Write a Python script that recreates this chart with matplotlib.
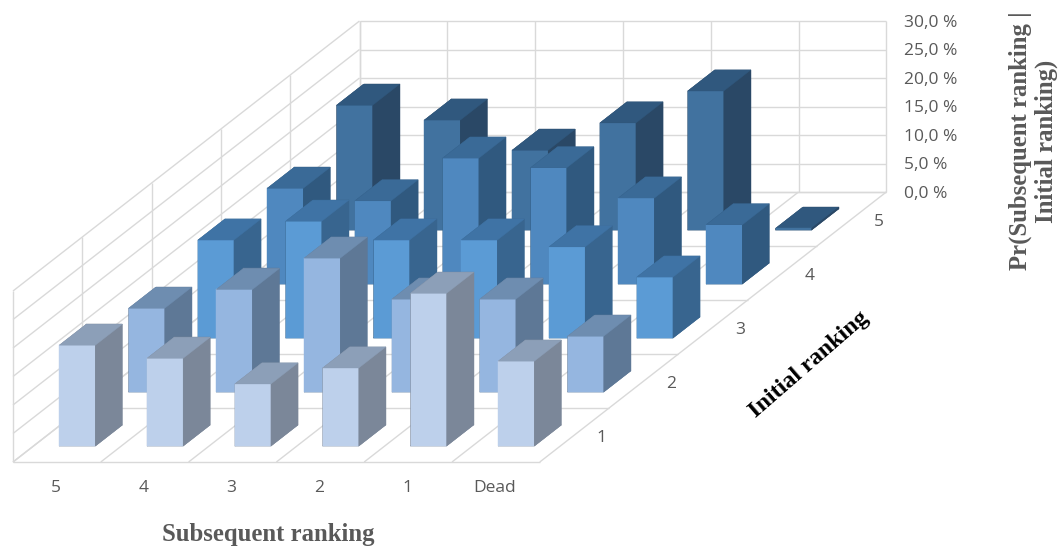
import numpy as np
import matplotlib
matplotlib.use("Agg")
import matplotlib.pyplot as plt
from mpl_toolkits.mplot3d.art3d import Line3DCollection

subsequent = ["5", "4", "3", "2", "1", "Dead"]
initial = ["1", "2", "3", "4", "5"]
z_ticks = [0, 5, 10, 15, 20, 25, 30]
z_labels = ["0,0 %", "5,0 %", "10,0 %", "15,0 %", "20,0 %", "25,0 %", "30,0 %"]

row1 = [17.7, 15.4, 10.9, 13.7, 26.8, 14.9]
row2 = [14.7, 18.0, 23.5, 16.3, 16.3, 9.8]
row3 = [17.2, 20.5, 17.2, 17.2, 16.0, 10.7]
row4 = [16.8, 14.6, 22.1, 20.4, 15.1, 10.4]
row5 = [21.9, 19.3, 14.0, 18.8, 24.4, 0.3]
rows = [row1, row2, row3, row4, row5]

front = ["#BDD0EB", "#95B6E0", "#5B9BD5", "#4F88BF", "#41729F"]
top = ["#8C9FB8", "#6E8DB0", "#3F73A5", "#3A6A97", "#30587E"]
side = ["#7B8799", "#5E7896", "#38658F", "#30597F", "#2A4866"]
GRID = "#D9D9D9"
TICK = "#595959"

W, H = 1058, 547
fig = plt.figure(figsize=(W / 100, H / 100), dpi=100, facecolor="white")
ax = fig.add_axes([0, 0, 1, 1], projection="3d", computed_zorder=False)

# oblique projection: data (x, y, z) -> pixel position and paint depth
M = np.array([[87.8, 69.3, 0.0, 13.0],
              [0.0, -54.0, -5.7, 462.0],
              [-1.0, 1.0, -0.1, 0.0],
              [0.0, 0.0, 0.0, 1.0]])
ax.get_proj = lambda: M
ax.apply_aspect = lambda position=None: None
ax.set_xticks([])
ax.set_yticks([])
ax.set_zticks([])
ax.set_axis_off()
ax.patch.set_alpha(0)
ax.viewLim.intervalx = (0, W)
ax.viewLim.intervaly = (H, 0)


def screen(x, y, z):
    return (M @ np.array([x, y, z, 1.0]))[:2]


nx, ny = len(subsequent), len(initial)
zmax = z_ticks[-1]

segments = []
for z in z_ticks:
    segments.append([(0, 0, z), (0, ny, z)])
    segments.append([(0, ny, z), (nx, ny, z)])
for i in range(nx + 1):
    segments.append([(i, 0, 0), (i, ny, 0)])
    segments.append([(i, ny, 0), (i, ny, zmax)])
for j in range(ny + 1):
    segments.append([(0, j, 0), (nx, j, 0)])
    segments.append([(0, j, 0), (0, j, zmax)])
ax.add_collection3d(Line3DCollection(segments, colors=GRID, linewidths=1.0, zorder=5))

dx, dy = 0.41, 0.39
order = 10
for j in range(ny - 1, -1, -1):
    for i in range(nx):
        faces = [side[j], top[j], front[j], side[j], side[j], side[j]]
        ax.bar3d(i + 0.295, j + 0.295, 0, dx, dy, rows[j][i], color=faces,
                 edgecolor=faces, linewidth=0.3, shade=False, zorder=order)
        order += 1

tick_font = dict(family="Open Sans", fontsize=12.5, color=TICK, zorder=200,
                 transform=ax.transData, va="center")
for i, lab in enumerate(subsequent):
    px, py = screen(i + 0.49, 0, -4.6)
    ax.text2D(px, py, lab, ha="center", **tick_font)
for j, lab in enumerate(initial):
    px, py = screen(nx + 0.31, j + 0.5, -0.45)
    ax.text2D(px, py, lab, ha="center", **tick_font)
for z, lab in zip(z_ticks, z_labels):
    px, py = screen(nx + 0.2, ny, z - 0.3)
    ax.text2D(px, py, lab, ha="left", **tick_font)

serif = dict(family="Liberation Serif", fontweight="bold")
fig.text(268 / W, 1 - 534 / H, "Subsequent ranking", ha="center", va="center",
         fontsize=17.8, color=TICK, **serif)
fig.text(809 / W, 1 - 365 / H, "Initial ranking", ha="center", va="center",
         rotation=41, rotation_mode="anchor", fontsize=17.3, color="black", **serif)
fig.text(1033 / W, 1 - 141 / H, "Pr(Subsequent ranking |\nInitial ranking)",
         ha="center", va="center", rotation=90, multialignment="center",
         fontsize=17.8, color=TICK, linespacing=1.12, **serif)

fig.savefig("out.png", dpi=100, facecolor="white")
